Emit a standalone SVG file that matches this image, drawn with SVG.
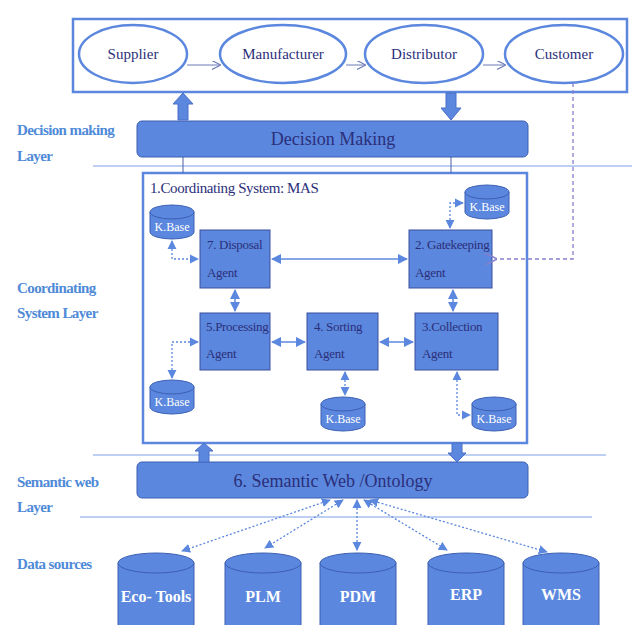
<svg xmlns="http://www.w3.org/2000/svg" xmlns:xlink="http://www.w3.org/1999/xlink" width="632" height="625" viewBox="0 0 632 625" font-family="'Liberation Serif', 'Times New Roman', serif">
<style>
text{font-family:'Liberation Serif','Times New Roman',serif}
.lbl{font-weight:bold;font-size:15px;fill:#4f8ad8;letter-spacing:-0.6px}
.ell{fill:#fff;stroke:#5b87de;stroke-width:2.5}
.etx{font-size:15px;fill:#2b2f7a;text-anchor:middle}
.band{fill:#5b87de;stroke:#3c5fb3;stroke-width:1}
.btx{font-size:18px;fill:#2b2f7a;text-anchor:middle}
.agent{fill:#5b87de;stroke:#3a4f9e;stroke-width:1}
.atx{font-size:13px;fill:#2b2f7a;letter-spacing:-0.3px}
.cyl{fill:#5b87de;stroke:#3c5fb3;stroke-width:1}
.ctx{font-size:12px;fill:#fff;text-anchor:middle}
.dtx{font-size:16px;fill:#fff;text-anchor:middle;font-weight:bold}
.sep{stroke:#7da2e6;stroke-width:1;fill:none}
.solid{stroke:#5b87de;stroke-width:1.5;fill:none}
.dot{stroke:#5b87de;stroke-width:1.3;stroke-dasharray:2,2;fill:none}
.thin{stroke:#4a5fa8;stroke-width:1;fill:none}
.chain{stroke:#6a78b8;stroke-width:1;fill:none}
.block{fill:#5b87de;stroke:#4a6fc8;stroke-width:1}
</style>
<defs>
<marker id="ah" viewBox="0 0 10 10" refX="9" refY="5" markerWidth="7" markerHeight="7" orient="auto-start-reverse"><path d="M0,0 L10,5 L0,10 z" fill="#5b87de"/></marker>
<marker id="oh" viewBox="0 0 10 10" refX="9" refY="5" markerWidth="9" markerHeight="9" orient="auto"><path d="M0,0 L10,5 L0,10" fill="none" stroke="#6a78b8" stroke-width="1.2"/></marker>
<marker id="ph" viewBox="0 0 10 10" refX="1" refY="5" markerWidth="9" markerHeight="9" orient="auto"><path d="M10,0 L0,5 L10,10" fill="none" stroke="#8580cc" stroke-width="1.3"/></marker>
<g id="kbcyl"><path class="cyl" d="M0,7 A22,7 0 0 1 44,7 V27 A22,7 0 0 1 0,27 Z"/><path class="cyl" d="M0,7 A22,7 0 0 0 44,7"/></g>
<g id="dscyl"><path class="cyl" d="M0,10 A38,10 0 0 1 76,10 V90 H0 Z"/><path class="cyl" d="M0,10 A38,10 0 0 0 76,10"/></g>
</defs>

<g id="labels">
<text class="lbl" x="17" y="135">Decision making</text>
<text class="lbl" x="17" y="161">Layer</text>
<text class="lbl" x="17" y="293">Coordinating</text>
<text class="lbl" x="17" y="318">System Layer</text>
<text class="lbl" x="17" y="487">Semantic web</text>
<text class="lbl" x="17" y="512">Layer</text>
<text class="lbl" x="17" y="569">Data sources</text>
</g>

<g id="separators">
<line class="sep" x1="93" y1="166" x2="632" y2="166"/>
<line class="sep" x1="93" y1="455" x2="606" y2="455"/>
<line class="sep" x1="80" y1="517" x2="592" y2="517"/>
</g>

<g id="supplychain">
<rect x="73" y="19" width="554" height="73" fill="#fff" stroke="#5b87de" stroke-width="2.5"/>
</g>
<g id="supplier"><ellipse class="ell" cx="133" cy="54" rx="54" ry="29"/><text class="etx" x="133" y="59">Supplier</text></g>
<g id="manufacturer"><ellipse class="ell" cx="283" cy="54" rx="63" ry="29"/><text class="etx" x="283" y="59">Manufacturer</text></g>
<g id="distributor"><ellipse class="ell" cx="424" cy="54" rx="59" ry="29"/><text class="etx" x="424" y="59">Distributor</text></g>
<g id="customer"><ellipse class="ell" cx="564" cy="54" rx="59" ry="29"/><text class="etx" x="564" y="59">Customer</text></g>

<g id="decision"><rect class="band" x="137" y="121" width="391" height="36" rx="5"/><text class="btx" x="333" y="145">Decision Making</text></g>

<g id="mas">
<rect x="143" y="173" width="384" height="270" fill="#fff" stroke="#5b87de" stroke-width="2.5"/>
<text x="150" y="193" style="font-size:15px;fill:#2b2f7a;letter-spacing:-0.4px">1.Coordinating System: MAS</text>
</g>

<g id="semantic"><rect class="band" x="137" y="462" width="391" height="36" rx="5"/><text class="btx" x="333" y="487">6. Semantic Web /Ontology</text></g>

<g id="a7"><rect class="agent" x="200" y="230" width="70" height="58"/><text class="atx" x="207" y="249">7. Disposal</text><text class="atx" x="207" y="277">Agent</text></g>
<g id="a2"><rect class="agent" x="409" y="230" width="83" height="58"/><text class="atx" x="415" y="249">2. Gatekeeping</text><text class="atx" x="415" y="277">Agent</text></g>
<g id="a5"><rect class="agent" x="200" y="313" width="70" height="57"/><text class="atx" x="206" y="331">5.Processing</text><text class="atx" x="206" y="358">Agent</text></g>
<g id="a4"><rect class="agent" x="307" y="313" width="71" height="57"/><text class="atx" x="314" y="331">4. Sorting</text><text class="atx" x="314" y="358">Agent</text></g>
<g id="a3"><rect class="agent" x="415" y="313" width="83" height="57"/><text class="atx" x="422" y="331">3.Collection</text><text class="atx" x="422" y="358">Agent</text></g>

<g id="kb7" transform="translate(150,205)"><use href="#kbcyl"/><text class="ctx" x="22" y="26">K.Base</text></g>
<g id="kb2" transform="translate(465,185)"><use href="#kbcyl"/><text class="ctx" x="22" y="26">K.Base</text></g>
<g id="kb5" transform="translate(150,380)"><use href="#kbcyl"/><text class="ctx" x="22" y="26">K.Base</text></g>
<g id="kb4" transform="translate(321,397)"><use href="#kbcyl"/><text class="ctx" x="22" y="26">K.Base</text></g>
<g id="kb3" transform="translate(472,397)"><use href="#kbcyl"/><text class="ctx" x="22" y="26">K.Base</text></g>

<g id="ecotools" transform="translate(118,553)"><use href="#dscyl"/><text class="dtx" x="38" y="49">Eco- Tools</text></g>
<g id="plm" transform="translate(225,553)"><use href="#dscyl"/><text class="dtx" x="38" y="49">PLM</text></g>
<g id="pdm" transform="translate(320,553)"><use href="#dscyl"/><text class="dtx" x="38" y="49">PDM</text></g>
<g id="erp" transform="translate(428,553)"><use href="#dscyl"/><text class="dtx" x="38" y="47">ERP</text></g>
<g id="wms" transform="translate(523,553)"><use href="#dscyl"/><text class="dtx" x="38" y="47">WMS</text></g>

<g id="connectors">
<line class="chain" x1="187" y1="65" x2="220" y2="65" marker-end="url(#oh)"/>
<line class="chain" x1="346" y1="65" x2="365" y2="65" marker-end="url(#oh)"/>
<line class="chain" x1="483" y1="65" x2="505" y2="65" marker-end="url(#oh)"/>
<path class="block" d="M178,120 V104 H173 L183,93 L193,104 H188 V120 Z"/>
<path class="block" d="M446,93 V108 H441 L451,120 L461,108 H456 V93 Z"/>
<path class="block" d="M199,462 V451 H195 L204,443 L213,451 H209 V462 Z"/>
<path class="block" d="M452,443 V453 H448 L457,462 L466,453 H462 V443 Z"/>
<line class="thin" x1="183" y1="157" x2="183" y2="173"/>
<line class="thin" x1="451" y1="157" x2="451" y2="173"/>
<path d="M573,83 V259 H496" fill="none" stroke="#8580cc" stroke-width="1.3" stroke-dasharray="4,3" marker-end="url(#ph)"/>
<line class="solid" x1="272" y1="259" x2="407" y2="259" marker-start="url(#ah)" marker-end="url(#ah)"/>
<line class="solid" x1="235" y1="290" x2="235" y2="311" marker-start="url(#ah)" marker-end="url(#ah)"/>
<line class="solid" x1="453" y1="290" x2="453" y2="311" marker-start="url(#ah)" marker-end="url(#ah)"/>
<line class="solid" x1="272" y1="342" x2="305" y2="342" marker-start="url(#ah)" marker-end="url(#ah)"/>
<line class="solid" x1="380" y1="342" x2="413" y2="342" marker-start="url(#ah)" marker-end="url(#ah)"/>
<path class="dot" d="M172,241 V259 H198" marker-start="url(#ah)" marker-end="url(#ah)"/>
<path class="dot" d="M450,228 V203 H463" marker-start="url(#ah)" marker-end="url(#ah)"/>
<path class="dot" d="M198,342 H172 V378" marker-start="url(#ah)" marker-end="url(#ah)"/>
<line class="dot" x1="345" y1="372" x2="345" y2="395" marker-start="url(#ah)" marker-end="url(#ah)"/>
<path class="dot" d="M457,372 V415 H470" marker-start="url(#ah)" marker-end="url(#ah)"/>
<line class="dot" x1="330" y1="500" x2="182" y2="551" marker-start="url(#ah)" marker-end="url(#ah)"/>
<line class="dot" x1="343" y1="500" x2="265" y2="548" marker-start="url(#ah)" marker-end="url(#ah)"/>
<line class="dot" x1="357" y1="500" x2="357" y2="550" marker-start="url(#ah)" marker-end="url(#ah)"/>
<line class="dot" x1="364" y1="500" x2="447" y2="550" marker-start="url(#ah)" marker-end="url(#ah)"/>
<line class="dot" x1="370" y1="500" x2="547" y2="552" marker-start="url(#ah)" marker-end="url(#ah)"/>
</g>
</svg>
